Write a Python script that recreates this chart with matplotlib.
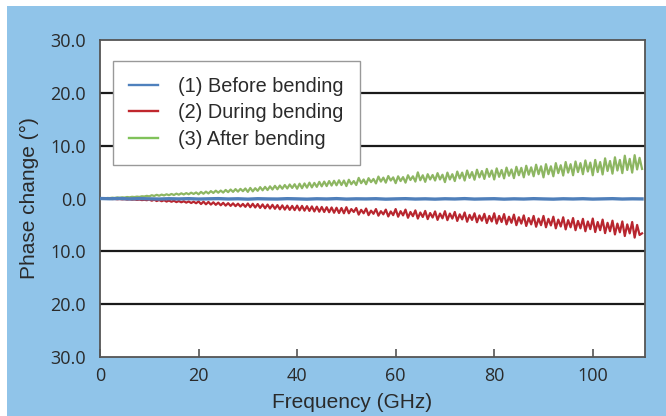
import numpy as np
import matplotlib
matplotlib.use('Agg')
import matplotlib.pyplot as plt
from matplotlib.patches import Rectangle

# frequency grid, 0.5 GHz step
freq = np.arange(0, 110.5, 0.5)

# (3) after bending (0.5 GHz steps)
after = [
    0.00, 0.05, 0.02, 0.10, 0.08, 0.15, 0.10, 0.20, 0.14, 0.22, 0.18, 0.28, 0.22, 0.32, 0.27, 0.36, 0.30, 0.42, 0.38, 0.50,
    0.40, 0.62, 0.48, 0.70, 0.52, 0.74, 0.58, 0.80, 0.62, 0.86, 0.66, 0.92, 0.72, 0.98, 0.76, 1.02, 0.80, 1.10, 0.86, 1.14,
    0.80, 1.25, 0.90, 1.30, 0.95, 1.40, 1.05, 1.48, 1.10, 1.50, 1.12, 1.62, 1.20, 1.70, 1.25, 1.78, 1.30, 1.82, 1.38, 1.90,
    1.25, 2.00, 1.35, 1.95, 1.45, 2.15, 1.55, 2.20, 1.60, 2.30, 1.70, 2.40, 1.75, 2.45, 1.85, 2.55, 1.90, 2.65, 2.00, 2.70,
    1.85, 2.80, 1.95, 2.85, 2.05, 3.00, 2.10, 2.95, 2.20, 3.15, 2.30, 3.20, 2.35, 3.30, 2.45, 3.35, 2.50, 3.45, 2.55, 3.40,
    2.35, 3.55, 2.70, 3.30, 2.55, 3.90, 2.90, 3.60, 2.70, 3.85, 3.10, 3.70, 2.85, 4.15, 3.20, 3.95, 3.00, 4.25, 3.40, 4.00,
    2.90, 4.20, 3.30, 4.05, 3.00, 4.40, 3.50, 4.20, 3.20, 4.95, 3.45, 4.40, 3.15, 4.60, 3.60, 4.45, 3.40, 4.80, 3.60, 4.50,
    3.10, 4.90, 3.60, 4.60, 3.30, 5.10, 3.80, 4.90, 3.40, 5.30, 3.90, 5.00, 3.55, 5.45, 4.00, 5.20, 3.70, 5.60, 4.10, 5.30,
    3.60, 5.70, 4.10, 5.40, 3.80, 5.85, 4.30, 5.50, 3.85, 6.00, 4.40, 5.80, 4.00, 6.20, 4.50, 5.90, 4.20, 6.40, 4.60, 6.10,
    4.00, 6.50, 4.60, 6.10, 4.20, 6.70, 4.80, 6.30, 4.35, 6.90, 4.90, 6.50, 4.40, 7.00, 5.00, 6.70, 4.60, 7.20, 5.10, 6.80,
    4.40, 7.30, 5.00, 6.90, 4.55, 7.60, 5.20, 7.10, 4.70, 7.80, 5.30, 7.30, 4.80, 8.10, 5.40, 7.50, 4.90, 8.20, 5.50, 7.70,
    5.60,
]

# (2) during bending
during = [
    0.00, -0.05, -0.02, -0.08, -0.05, -0.10, -0.08, -0.14, -0.10, -0.16, -0.12, -0.20, -0.15, -0.22, -0.18, -0.26, -0.20, -0.30, -0.24, -0.32,
    -0.18, -0.42, -0.22, -0.48, -0.28, -0.52, -0.32, -0.58, -0.38, -0.62, -0.42, -0.68, -0.48, -0.72, -0.52, -0.78, -0.56, -0.85, -0.60, -0.90,
    -0.55, -1.05, -0.60, -1.10, -0.65, -1.15, -0.72, -1.20, -0.78, -1.28, -0.82, -1.35, -0.88, -1.40, -0.92, -1.45, -0.98, -1.52, -1.02, -1.58,
    -0.95, -1.65, -1.00, -1.70, -1.05, -1.78, -1.12, -1.85, -1.15, -1.90, -1.20, -1.95, -1.25, -2.05, -1.30, -2.10, -1.35, -2.15, -1.40, -2.20,
    -1.35, -2.25, -1.40, -2.30, -1.45, -2.35, -1.50, -2.45, -1.55, -2.50, -1.60, -2.55, -1.65, -2.60, -1.70, -2.70, -1.75, -2.75, -1.80, -2.80,
    -1.65, -2.80, -2.00, -2.55, -1.80, -3.05, -2.15, -2.80, -1.90, -3.15, -2.30, -2.90, -2.00, -3.25, -2.40, -3.00, -2.10, -3.40, -2.45, -3.15,
    -2.00, -3.45, -2.40, -3.20, -2.10, -3.65, -2.55, -3.35, -2.25, -3.80, -2.65, -3.50, -2.35, -3.90, -2.75, -3.60, -2.45, -4.05, -2.85, -3.75,
    -2.40, -4.10, -2.85, -3.80, -2.55, -4.25, -3.00, -3.95, -2.65, -4.40, -3.10, -4.05, -2.80, -4.50, -3.20, -4.20, -2.90, -4.65, -3.30, -4.35,
    -2.80, -4.75, -3.30, -4.45, -2.95, -4.90, -3.45, -4.60, -3.05, -5.05, -3.55, -4.75, -3.20, -5.20, -3.70, -4.90, -3.30, -5.35, -3.80, -5.05,
    -3.30, -5.45, -3.85, -5.10, -3.45, -5.65, -4.00, -5.30, -3.55, -5.85, -4.10, -5.45, -3.70, -6.00, -4.25, -5.65, -3.85, -6.20, -4.35, -5.80,
    -3.80, -6.35, -4.45, -6.00, -4.00, -6.55, -4.60, -6.20, -4.20, -6.80, -4.75, -6.40, -4.35, -7.10, -4.90, -6.60, -4.45, -7.40, -5.00, -6.90,
    -6.60,
]

# (1) before bending, 2 GHz steps
freq_before = np.arange(0, 112, 2)
before = [
    0.00, -0.05, 0.00, -0.08, -0.02, -0.06, -0.10, -0.04, -0.08, -0.03, -0.10, -0.06, -0.02, -0.09,
    -0.05, -0.12, -0.04, -0.08, -0.10, -0.03, -0.07, -0.12, -0.05, -0.09, -0.02, -0.11, -0.06, -0.08,
    -0.04, -0.12, -0.07, -0.03, -0.10, -0.06, -0.12, -0.05, -0.09, -0.02, -0.11, -0.07, -0.04, -0.12,
    -0.06, -0.10, -0.03, -0.08, -0.12, -0.05, -0.09, -0.04, -0.11, -0.07, -0.03, -0.10, -0.06, -0.08,
]

yticks = [30, 20, 10, 0, -10, -20, -30]
ytick_labels = ['30.0', '20.0', '10.0', '0.0', '10.0', '20.0', '30.0']
xticks = [0, 20, 40, 60, 80, 100]

labels = ['(1) Before bending', '(2) During bending', '(3) After bending']
colors = ['#4F7FBA', '#B8262F', '#8DB662']
legend_colors = ['#4F81BD', '#C0272D', '#80C25A']

W, H = 666, 416
fig = plt.figure(figsize=(W / 100, H / 100), dpi=100, facecolor='white')
fig.patches.append(Rectangle((7 / W, 0), 1, (H - 6) / H, transform=fig.transFigure,
                             facecolor='#90C4E9', edgecolor='none', zorder=-10))

ax = fig.add_axes([100 / W, (H - 357) / H, 545 / W, 317 / H])
ax.set_facecolor('white')

for y in [20, 10, -10, -20]:
    ax.axhline(y, color='#1a1a1a', lw=1.6, zorder=1)

ax.plot(freq, after, color=colors[2], lw=1.6, zorder=3)
ax.plot(freq, during, color=colors[1], lw=1.6, zorder=3)
ax.plot(freq_before, before, color=colors[0], lw=2.4, zorder=4)

ax.set_xlim(0, 110.6)
ax.set_ylim(-30, 30)
ax.set_yticks(yticks)
ax.set_yticklabels(ytick_labels)
ax.set_xticks(xticks)

for s in ax.spines.values():
    s.set_color('#555555')
    s.set_linewidth(1.3)

ax.tick_params(axis='y', length=0, pad=10, labelsize=13, labelcolor='#2a2a2a')
ax.tick_params(axis='x', direction='in', length=6, width=1.2, color='#555555',
               pad=7, labelsize=13, labelcolor='#2a2a2a')
for t in ax.get_xticklabels() + ax.get_yticklabels():
    t.set_family('Open Sans')

ax.set_xlabel('Frequency (GHz)', family='Liberation Sans', fontsize=15, color='#2a2a2a')
ax.xaxis.set_label_coords(0.463, -0.112)
ax.set_ylabel('Phase change (°)', family='Liberation Sans', fontsize=15, color='#2a2a2a', labelpad=8)

handles = [plt.Line2D([], [], color=c, lw=1.7) for c in legend_colors]
leg = ax.legend(handles, labels, loc='upper left', bbox_to_anchor=(0.024, 0.935),
                borderaxespad=0, frameon=True, fancybox=False, framealpha=1,
                edgecolor='#999999', handlelength=1.45, handletextpad=1.0,
                labelspacing=0.38, borderpad=0.82,
                prop={'family': 'Liberation Sans', 'size': 14.3})
leg.get_frame().set_linewidth(1.0)
for t in leg.get_texts():
    t.set_color('#2a2a2a')

fig.savefig('out.png', dpi=100, facecolor=fig.get_facecolor())
